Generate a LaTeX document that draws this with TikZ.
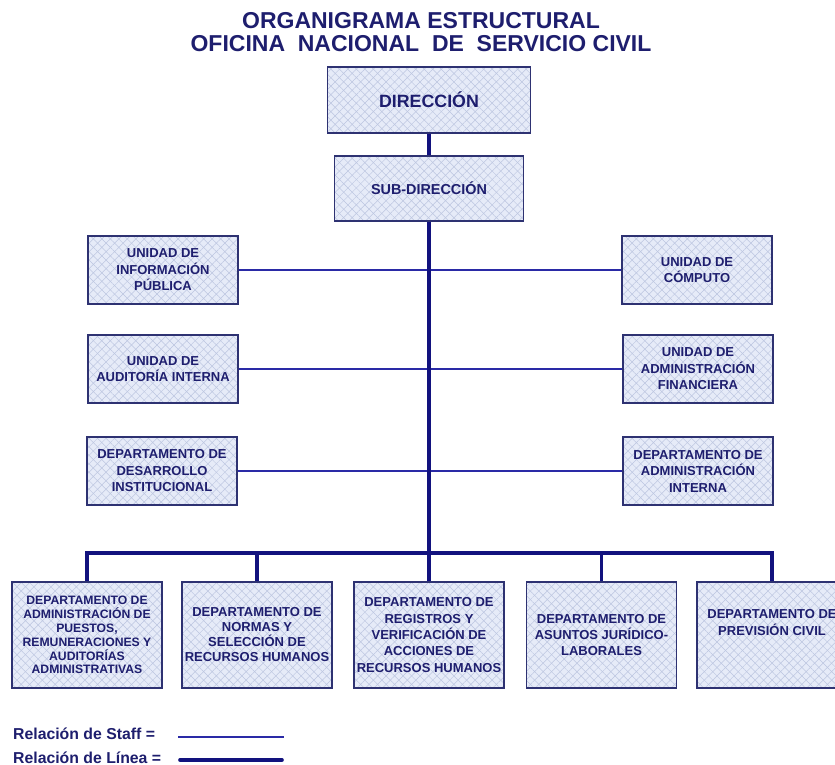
\documentclass[tikz,border=0pt]{standalone}
\usepackage{fontspec}
\setmainfont{Liberation Sans}
\usetikzlibrary{patterns.meta}
\definecolor{navy}{HTML}{1E1E6E}
\definecolor{boxfill}{HTML}{E6EBF8}
\definecolor{hatch}{HTML}{BCC6E0}
\definecolor{boxdraw}{HTML}{2E3272}
\definecolor{linecol}{HTML}{12127E}
\definecolor{staffcol}{HTML}{2A2AA6}
\tikzset{
  orgbox/.style={draw=boxdraw, line width=1.6pt, text=navy, align=center,
    inner sep=1pt, anchor=center,
    preaction={fill=boxfill},
    preaction={pattern={Lines[angle=45,distance=6pt,line width=0.5pt]}, pattern color=hatch},
    preaction={pattern={Lines[angle=-45,distance=6pt,line width=0.5pt]}, pattern color=hatch}},
  staffbox/.style={orgbox, minimum width=150pt, minimum height=68pt,
    font=\bfseries\fontsize{13}{16.5}\selectfont},
  deptbox/.style={orgbox, minimum width=150pt, minimum height=106pt,
    font=\bfseries\fontsize{13}{16.3}\selectfont},
  staffline/.style={draw=staffcol, line width=1.6pt},
  linealine/.style={draw=linecol, line width=3.6pt},
  legendtxt/.style={text=navy, anchor=base west, inner sep=0pt,
    font=\bfseries\fontsize{15.8}{17}\selectfont},
}
\begin{document}
\begin{tikzpicture}[x=1pt,y=-1pt]
\clip (0,0) rectangle (835,765);
\fill[white] (0,0) rectangle (835,765);

% title
\node[text=navy, align=center, inner sep=0pt, font=\bfseries\fontsize{23}{22.5}\selectfont]
  (title) at (421,32) {ORGANIGRAMA ESTRUCTURAL\\OFICINA\ \ NACIONAL\ \ DE\ \ SERVICIO CIVIL};

% main boxes
\node[orgbox, minimum width=203pt, minimum height=66pt,
  font=\bfseries\fontsize{17.8}{20}\selectfont] (dir) at (429,100) {DIRECCIÓN};
\node[orgbox, minimum width=189pt, minimum height=65pt,
  font=\bfseries\fontsize{14.4}{17}\selectfont] (sub) at (429,188.5) {SUB-DIRECCIÓN};

% staff boxes
\node[staffbox] (L1) at (163,270) {UNIDAD DE\\INFORMACIÓN\\PÚBLICA};
\node[staffbox] (L2) at (163,369) {UNIDAD DE\\AUDITORÍA INTERNA};
\node[staffbox] (L3) at (162,471) {DEPARTAMENTO DE\\DESARROLLO\\INSTITUCIONAL};
\node[staffbox] (R1) at (697,270) {UNIDAD DE\\CÓMPUTO};
\node[staffbox] (R2) at (698,369) {UNIDAD DE\\ADMINISTRACIÓN\\FINANCIERA};
\node[staffbox] (R3) at (698,471) {DEPARTAMENTO DE\\ADMINISTRACIÓN\\INTERNA};

% departments
\node[deptbox, font=\bfseries\fontsize{12.2}{13.9}\selectfont] (B1) at (87,635)
  {DEPARTAMENTO DE\\ADMINISTRACIÓN DE\\PUESTOS,\\REMUNERACIONES Y\\AUDITORÍAS\\ADMINISTRATIVAS};
\node[deptbox, font=\bfseries\fontsize{13}{15}\selectfont] (B2) at (257,635)
  {DEPARTAMENTO DE\\NORMAS Y\\SELECCIÓN DE\\RECURSOS HUMANOS};
\node[deptbox] (B3) at (429,635) {DEPARTAMENTO DE\\REGISTROS Y\\VERIFICACIÓN DE\\ACCIONES DE\\RECURSOS HUMANOS};
\node[deptbox] (B4) at (601.5,635) {DEPARTAMENTO DE\\ASUNTOS JURÍDICO-\\LABORALES};
\node[deptbox] (B5) at (772,635) {};
\node[text=navy, align=center, inner sep=0pt, font=\bfseries\fontsize{13}{17}\selectfont]
  (B5t) at (772,623) {DEPARTAMENTO DE\\PREVISIÓN CIVIL};

% staff relations
\draw[staffline] (L1.east) -- (R1.west);
\draw[staffline] (L2.east) -- (R2.west);
\draw[staffline] (L3.east) -- (R3.west);

% line relations
\coordinate (bus) at (429,553);
\draw[linealine] (dir.south) -- (sub.north);
\draw[linealine] (sub.south) -- (B3.north);
\draw[linealine] (B1.north) |- (bus) -| (B5.north);
\draw[linealine] (B2.north) -- (B2.north |- bus);
\draw[linealine] (B4.north) -- (B4.north |- bus);

% legend
\node[legendtxt] (lstaff) at (13,739.5) {Relación de Staff =};
\node[legendtxt] (llinea) at (13,763) {Relación de Línea =};
\coordinate (s1) at (178,737);
\coordinate (s2) at (284,737);
\coordinate (t1) at (180,760);
\coordinate (t2) at (282,760);
\draw[staffline] (s1) -- (s2);
\draw[linealine, line cap=round] (t1) -- (t2);
\end{tikzpicture}
\end{document}
